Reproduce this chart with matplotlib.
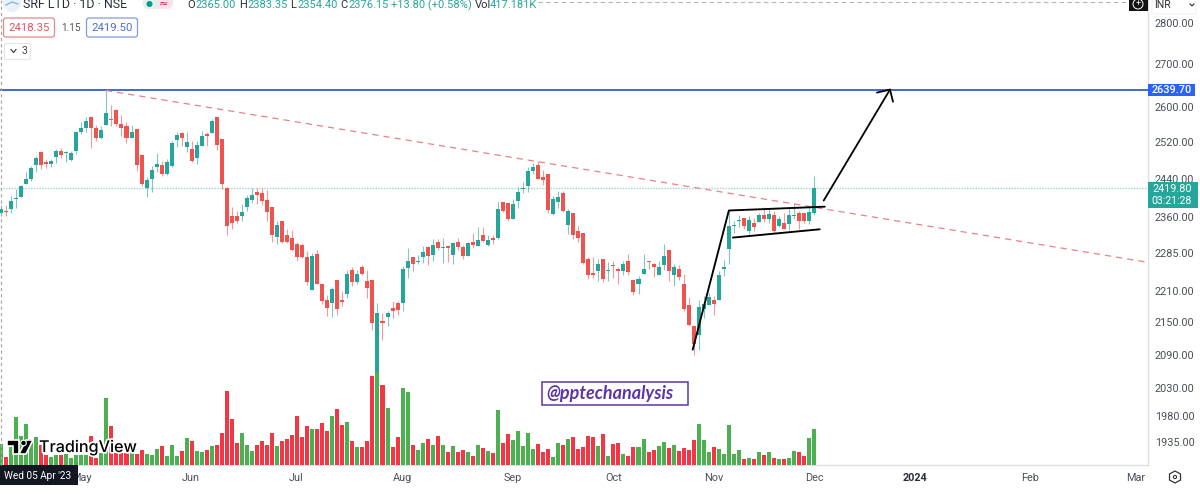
import matplotlib
matplotlib.use("Agg")
import matplotlib.pyplot as plt
from matplotlib.patches import Rectangle, FancyBboxPatch, Circle, Polygon
import matplotlib.patheffects as pe

plt.rcParams['font.family'] = ['Roboto', 'DejaVu Sans']

opens = [2367,2373,2377,2398,2402,2429,2440,2470,2498,2477,
2472,2487,2501,2496,2481,2501,2542,2551,2578,2553,
2529,2558,2573,2594,2560,2556,2529,2549,2492,2421,
2440,2466,2470,2451,2468,2525,2540,2509,2505,2485,
2512,2538,2540,2578,2527,2421,2361,2361,2361,2381,
2396,2413,2409,2396,2381,2319,2352,2322,2317,2303,
2301,2277,2212,2283,2224,2193,2187,2232,2193,2204,
2251,2228,2257,2230,2232,2055,2153,2161,2178,2187,
2187,2255,2277,2267,2277,2297,2281,2309,2295,2299,
2281,2307,2297,2279,2307,2299,2322,2301,2317,2317,
2390,2388,2356,2392,2419,2425,2457,2470,2444,2451,
2365,2390,2409,2342,2367,2330,2326,2273,2245,2249,
2273,2249,2261,2253,2249,2269,2232,2224,2244,2269,
2263,2242,2261,2291,2242,2253,2224,2184,2144,2126,
2176,2184,2193,2193,2253,2293,2340,2352,2358,2330,
2348,2350,2363,2356,2363,2340,2346,2344,2361,2367,
2367,2352,2367]
highs = [2384,2384,2404,2419,2427,2455,2468,2490,2501,2483,
2483,2505,2507,2501,2501,2545,2565,2576,2578,2558,
2556,2638,2605,2596,2582,2565,2558,2549,2494,2444,
2468,2496,2479,2483,2523,2542,2542,2542,2523,2523,
2545,2542,2573,2578,2527,2423,2381,2371,2386,2406,
2421,2421,2421,2417,2381,2352,2352,2334,2332,2307,
2305,2289,2285,2291,2224,2203,2218,2232,2210,2251,
2257,2251,2261,2251,2232,2187,2167,2172,2191,2191,
2259,2295,2277,2281,2299,2299,2315,2315,2317,2301,
2309,2317,2301,2309,2326,2338,2338,2322,2322,2390,
2390,2388,2398,2423,2434,2466,2474,2479,2459,2451,
2404,2415,2415,2377,2367,2340,2326,2277,2277,2273,
2273,2267,2269,2257,2269,2283,2232,2240,2283,2269,
2265,2269,2303,2291,2263,2261,2244,2199,2144,2193,
2201,2206,2201,2249,2271,2371,2352,2363,2358,2361,
2358,2367,2381,2379,2373,2361,2367,2381,2388,2371,
2367,2381,2446]
lows = [2361,2361,2367,2379,2402,2429,2436,2455,2461,2463,
2466,2474,2485,2477,2479,2494,2538,2542,2507,2523,
2527,2558,2556,2556,2534,2518,2529,2457,2425,2402,
2413,2455,2446,2448,2466,2509,2512,2498,2477,2472,
2512,2512,2540,2503,2419,2322,2334,2346,2352,2371,
2388,2386,2384,2352,2307,2303,2305,2305,2289,2269,
2275,2222,2212,2224,2186,2163,2161,2165,2182,2197,
2220,2224,2242,2197,2136,2047,2116,2144,2159,2165,
2172,2236,2249,2263,2265,2261,2269,2291,2265,2267,
2263,2291,2273,2279,2295,2299,2309,2299,2303,2315,
2369,2352,2356,2379,2409,2413,2451,2440,2427,2367,
2363,2379,2369,2324,2315,2309,2263,2234,2236,2230,
2228,2230,2236,2224,2242,2242,2203,2204,2244,2253,
2238,2242,2251,2230,2220,2232,2172,2144,2089,2099,
2159,2184,2165,2193,2240,2263,2326,2338,2334,2324,
2330,2350,2350,2346,2326,2338,2334,2332,2356,2334,
2348,2344,2363]
closes = [2377,2369,2392,2400,2425,2440,2463,2485,2470,2472,
2479,2501,2492,2498,2496,2542,2551,2569,2551,2529,
2547,2587,2571,2560,2551,2529,2542,2470,2429,2438,
2459,2472,2451,2477,2518,2536,2529,2520,2479,2514,
2534,2534,2567,2514,2429,2340,2346,2352,2369,2400,
2406,2406,2392,2369,2322,2342,2309,2309,2291,2277,
2277,2228,2279,2224,2191,2178,2214,2176,2189,2244,
2228,2244,2244,2216,2148,2167,2148,2167,2172,2174,
2253,2269,2263,2269,2287,2279,2301,2295,2297,2295,
2305,2297,2279,2305,2301,2313,2311,2313,2313,2377,
2371,2356,2386,2413,2421,2457,2466,2440,2438,2375,
2398,2402,2371,2371,2322,2317,2265,2242,2242,2263,
2234,2251,2259,2249,2263,2247,2208,2234,2253,2267,
2257,2257,2279,2249,2257,2238,2176,2146,2109,2180,
2186,2199,2186,2242,2257,2340,2342,2354,2340,2354,
2338,2363,2356,2365,2330,2356,2334,2363,2363,2352,
2352,2369,2419.80]
volume_k = [417,160,360,960,580,820,520,560,400,200,
160,200,200,220,140,200,200,200,580,140,
240,1340,780,240,240,240,240,220,300,220,
200,320,380,180,400,180,280,540,480,280,
260,300,380,400,640,1480,920,440,640,400,
280,400,480,400,640,380,480,520,600,980,
560,780,720,720,840,680,980,1120,800,860,
480,360,360,480,1780,1860,1600,1140,360,560,
1540,1460,400,300,440,520,400,580,400,260,
380,260,300,260,180,400,340,280,240,1100,
440,620,500,680,380,640,320,420,260,320,
160,440,400,520,560,320,360,580,560,380,
620,180,420,440,220,180,360,360,520,260,
300,380,460,340,400,280,340,300,500,820,
500,260,360,320,220,800,220,300,120,140,
120,260,200,260,140,120,120,140,280,260,
180,540,720]

price_ticks = [2800, 2700, 2600, 2520, 2440, 2360, 2285, 2210, 2150, 2090, 2030, 1980, 1935]
month_labels = ['May', 'Jun', 'Jul', 'Aug', 'Sep', 'Oct', 'Nov', 'Dec', '2024', 'Feb', 'Mar']
month_pos = [16, 37.8, 58.8, 80, 102, 122, 142, 162, 182, 205, 226]

resistance = 2639.70
last_price = 2419.80
trend_x, trend_y = [20.9, 228.5], [2638, 2267]
pole_x, pole_y = [137.8, 145, 164.1], [2099, 2373, 2381]
flag_x, flag_y = [145.8, 163.1], [2317, 2334]
arrow_x, arrow_y = [163.9, 177.1], [2394, 2640]
head_x, head_y = [174.5, 177.1, 177.7], [2633, 2640, 2612]

UP, DOWN = '#26a69a', '#ef5350'
VUP, VDOWN = '#4caf50', '#f23645'
W, H = 1200, 494
AX_R, AX_B = 1148, 465

fig = plt.figure(figsize=(12, 4.94), dpi=100, facecolor='white')
rect = [0, (H - AX_B) / H, AX_R / W, AX_B / H]
ax = fig.add_axes(rect)
ax.set_yscale('log')
ax.set_xlim(-0.2, 228.5)
ax.set_ylim(1896, 2857)
ax.yaxis.tick_right()
ax.set_yticks(price_ticks)
ax.set_yticklabels([f'{p:.2f}' for p in price_ticks])
ax.minorticks_off()
ax.tick_params(axis='y', which='both', length=0, pad=5, labelsize=7.8, labelcolor='#4a4f5a')
ax.set_xticks(month_pos)
ax.set_xticklabels(month_labels)
ax.tick_params(axis='x', length=0, pad=6, labelsize=7.8, labelcolor='#4a4f5a')
for lbl in ax.get_xticklabels():
    if lbl.get_text() == '2024':
        lbl.set_fontweight('bold')
        lbl.set_color('#2a2e39')
for s in ('top', 'left'):
    ax.spines[s].set_visible(False)
for s in ('right', 'bottom'):
    ax.spines[s].set_color('#dcdfe4')
    ax.spines[s].set_linewidth(0.9)

xs = list(range(len(opens)))
is_up = [c >= o for o, c in zip(opens, closes)]
cols = [UP if u else DOWN for u in is_up]
ax.vlines(xs, lows, highs, colors=cols, linewidth=0.8, alpha=0.6, zorder=2)
ax.bar(xs, [max(abs(c - o), 1.5) for o, c in zip(opens, closes)],
       bottom=[min(o, c) for o, c in zip(opens, closes)],
       width=0.8, color=cols, linewidth=0, zorder=3)

ax.axhline(resistance, color='#2f5fd0', linewidth=1.3, zorder=4)
ax.axhline(last_price, color='#9fd5cf', linewidth=1.0, linestyle=(0, (1, 1)), zorder=1)
ax.plot(trend_x, trend_y, color='#e8828a', linewidth=0.9, linestyle=(0, (5, 4)), zorder=4)
ax.plot(pole_x, pole_y, color='black', linewidth=1.35, zorder=5, solid_capstyle='round')
ax.plot(flag_x, flag_y, color='black', linewidth=1.35, zorder=5, solid_capstyle='round')
ax.plot(arrow_x, arrow_y, color='black', linewidth=1.3, zorder=5, solid_capstyle='round')
ax.plot(head_x, head_y, color='black', linewidth=1.3, zorder=5, solid_capstyle='round')

axv = fig.add_axes(rect, sharex=ax)
axv.patch.set_visible(False)
axv.set_ylim(0, 9300)
axv.axis('off')
axv.bar(xs, volume_k, width=0.8, color=[VUP if u else VDOWN for u in is_up], linewidth=0)

# interface chrome in pixel coordinates
ui = fig.add_axes([0, 0, 1, 1])
ui.set_xlim(0, W)
ui.set_ylim(H, 0)
ui.axis('off')
ui.patch.set_visible(False)

TEAL = '#26a69a'
DARK = '#2a2e39'
# dashed frame
ui.plot([1, 1], [0, AX_B], color='#a9a9a9', lw=0.9, ls=(0, (2.5, 2.5)))
ui.plot([538, 1127], [2, 2], color='#b5b5b5', lw=0.8, ls=(0, (4, 3)))

# header
ui.add_patch(Circle((12, 3), 9, color='#eaf1f8', lw=0))
ui.plot([6, 12, 18], [5, 2, 4], color='#7fb2d8', lw=0.9)
ui.text(23, 5, 'SRF LTD · 1D · NSE', fontsize=8.9, color=DARK, va='center')
ui.add_patch(FancyBboxPatch((143, -6), 30, 15, boxstyle='round,pad=0,rounding_size=6', fc='#f7e3ea', ec='none'))
ui.add_patch(FancyBboxPatch((143, -6), 15, 15, boxstyle='round,pad=0,rounding_size=6', fc='#dff2ee', ec='none'))
ui.add_patch(Circle((149.5, 4), 3, color='#089981', lw=0))
ui.text(164, 4, '≈', fontsize=8, color='#c2185b', ha='center', va='center', family='DejaVu Sans')
for x, s, c in [(187, 'O', DARK), (195, '2365.00', TEAL), (239, 'H', DARK), (247, '2383.35', TEAL),
                (290, 'L', DARK), (297, '2354.40', TEAL), (340, 'C', DARK), (348, '2376.15', TEAL),
                (391, '+13.80 (+0.58%)', TEAL), (475, 'Vol', DARK), (490, '417.181K', TEAL)]:
    ui.text(x, 5, s, fontsize=8, color=c, va='center')

# bid / ask boxes
ui.add_patch(FancyBboxPatch((3.5, 18), 51, 19, boxstyle='round,pad=0,rounding_size=2.5', fc='white', ec='#e58a8f', lw=0.9))
ui.text(29, 28, '2418.35', fontsize=8.2, color='#e0575f', ha='center', va='center')
ui.text(71, 28, '1.15', fontsize=7.2, color='#555', ha='center', va='center')
ui.add_patch(FancyBboxPatch((86.5, 18), 51, 19, boxstyle='round,pad=0,rounding_size=2.5', fc='white', ec='#7f9be0', lw=0.9))
ui.text(112, 28, '2419.50', fontsize=8.2, color='#4a6fd0', ha='center', va='center')
ui.add_patch(FancyBboxPatch((4.5, 43.5), 26, 16, boxstyle='round,pad=0,rounding_size=2', fc='white', ec='#e3e5ea', lw=0.8))
ui.plot([11, 13.5, 16], [49.5, 52.5, 49.5], color=DARK, lw=0.8)
ui.text(24, 51, '3', fontsize=7.6, color='#444', ha='center', va='center')

# price labels on the scale
ui.add_patch(Rectangle((1148, 84), 47, 12, fc='#2962ff', ec='none'))
ui.text(1171.5, 90, '2639.70', fontsize=7.8, color='white', ha='center', va='center', fontweight='medium')
ui.add_patch(Rectangle((1148, 182), 50, 26, fc='#26a69a', ec='none'))
ui.text(1172, 189, '2419.80', fontsize=7.8, color='white', ha='center', va='center')
ui.text(1172, 201, '03:21:28', fontsize=7.6, color='white', ha='center', va='center')

# top-right controls
ui.add_patch(Rectangle((1129, -1), 19, 12, fc='#111', ec='none'))
ui.add_patch(Circle((1138, 4), 5, fc='none', ec='white', lw=0.7))
ui.text(1138, 4, '+', fontsize=6.5, color='white', ha='center', va='center')
ui.add_patch(FancyBboxPatch((1152, -4), 44, 18, boxstyle='round,pad=0,rounding_size=2', fc='white', ec='#eef0f2', lw=0.7))
ui.text(1154, 5, 'INR', fontsize=7.6, color='#333', va='center')
ui.plot([1190, 1192, 1194], [4, 6, 4], color='#333', lw=0.8)

# settings icon
ui.add_patch(Polygon([(1175, 471), (1180.5, 474), (1180.5, 480), (1175, 483), (1169.5, 480), (1169.5, 474)],
                     closed=True, fc='none', ec='#333', lw=0.9))
ui.add_patch(Circle((1175, 477), 1.6, fc='none', ec='#333', lw=0.8))

# watermark box
ui.add_patch(Rectangle((541.5, 381.5), 146, 23.5, fc='white', ec='#5e35a8', lw=1.1))
ui.text(546, 393.5, '@pptechanalysis', fontsize=13, color='#5e35a8', va='center',
        style='italic', fontweight='bold', family='Lato')

# hover date
ui.add_patch(Rectangle((0, 465), 78, 20, fc='#131722', ec='none'))
ui.text(4, 476, "Wed 05 Apr '23", fontsize=7.2, color='white', va='center')

# TradingView logo
halo = [pe.withStroke(linewidth=2.5, foreground='white')]
mark = [Polygon([(7, 440), (19, 440), (19, 454), (13, 454), (13, 446), (7, 446)], closed=True, fc='black', ec='white', lw=1.2),
        Polygon([(26, 440), (33, 440), (26, 454), (19, 454)], closed=True, fc='black', ec='white', lw=1.2),
        Circle((23.5, 443), 2.8, fc='black', ec='white', lw=0.8)]
for m in mark:
    ui.add_patch(m)
ui.text(39, 447.5, 'TradingView', fontsize=11.6, color='black', va='center', fontweight='medium',
        family='Inter', path_effects=halo)

fig.savefig('out.png', dpi=100, facecolor='white')
